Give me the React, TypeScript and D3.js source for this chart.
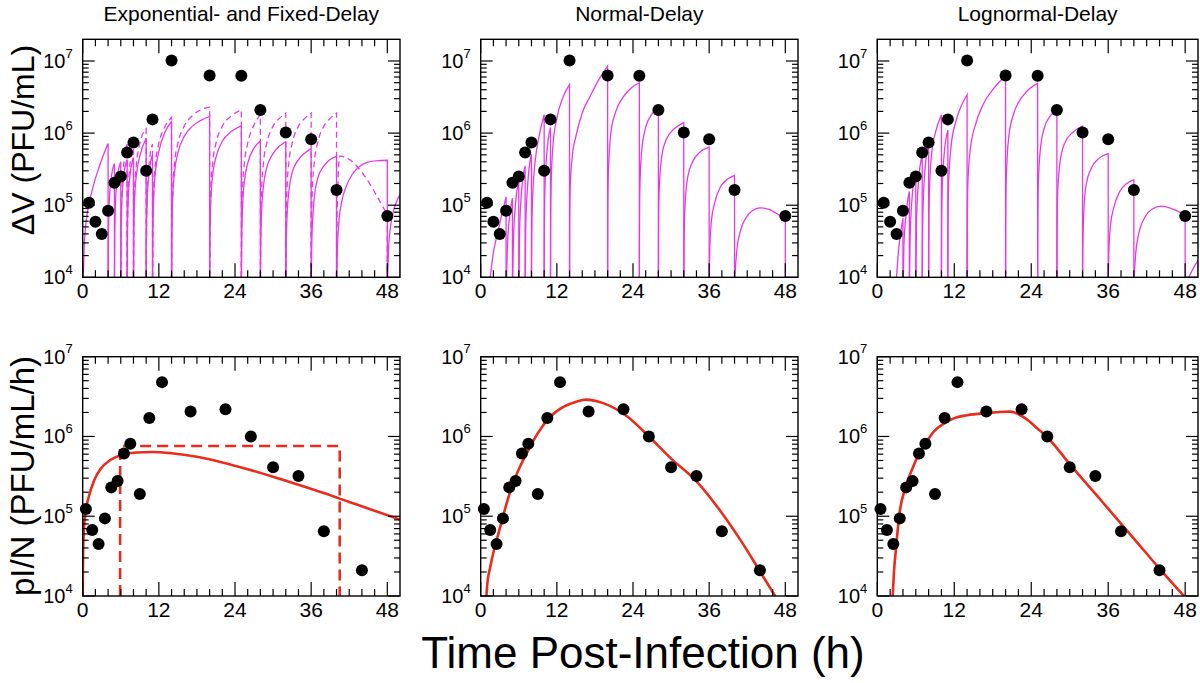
import React from 'react';
import * as d3 from 'd3';

type Pt = [number, number];

// ---------- text ----------
const panelTitles = ['Exponential- and Fixed-Delay', 'Normal-Delay', 'Lognormal-Delay'];
const rowTitles = ['\u0394V (PFU/mL)', 'pI/N (PFU/mL/h)'];
const xTitle = 'Time Post-Infection (h)';
const timeTicks = [0, 12, 24, 36, 48];
const decadeExponents = [4, 5, 6, 7];

// ---------- measured data (dots) ----------
const dvTimes = [1, 2, 3, 4, 5, 6, 7, 8, 10, 11, 14, 20, 25, 28, 32, 36, 40, 48];
const dvValues = [1.08e5, 5.9e4, 4.0e4, 8.4e4, 2.05e5, 2.5e5, 5.4e5, 7.4e5, 3.0e5, 1.55e6, 1.02e7, 6.3e6, 6.25e6, 2.09e6, 1.02e6, 8.2e5, 1.63e5, 7.1e4];
const piTimes = [0.5, 1.5, 2.5, 3.5, 4.5, 5.5, 6.5, 7.5, 9, 10.5, 12.5, 17, 22.5, 26.5, 30, 34, 38, 44];
const piValues = [1.23e5, 6.7e4, 4.5e4, 9.4e4, 2.3e5, 2.76e5, 6.1e5, 8.1e5, 1.9e5, 1.7e6, 4.8e6, 2.05e6, 2.2e6, 1.0e6, 4.1e5, 3.2e5, 6.5e4, 2.1e4];

// ---------- model ΔV segments (between samplings) ----------
const expDelayDV: Pt[][] = [
  [[0.08, 1e4], [0.25, 2.8e4], [0.6, 6.5e4], [1, 1.05e5], [1.7, 1.9e5], [2.5, 3.2e5], [3.2, 4.8e5], [4, 7.2e5]],
  [[4.015, 1e4], [4.06, 4e4], [4.2, 1.2e5], [4.5, 2.4e5], [5, 3.8e5]],
  [[5.015, 1e4], [5.06, 4e4], [5.2, 1.25e5], [5.5, 2.5e5], [6, 4e5]],
  [[6.015, 1e4], [6.06, 4.2e4], [6.2, 1.3e5], [6.5, 2.7e5], [7, 4.3e5]],
  [[7.015, 1e4], [7.06, 4.2e4], [7.2, 1.35e5], [7.5, 2.8e5], [8, 4.6e5]],
  [[8.015, 1e4], [8.06, 4.3e4], [8.2, 1.35e5], [8.5, 2.8e5], [9, 4.8e5], [10, 8.5e5]],
  [[10.015, 1e4], [10.06, 4.3e4], [10.2, 1.4e5], [10.5, 3e5], [11, 5e5]],
  [[11.015, 1e4], [11.06, 4.3e4], [11.2, 1.4e5], [11.5, 3.1e5], [12, 5.6e5], [13, 1.05e6], [14, 1.45e6]],
  [[14.015, 1e4], [14.06, 4.2e4], [14.2, 1.35e5], [14.5, 3e5], [15, 5.3e5], [16, 9e5], [17.3, 1.25e6], [18.6, 1.5e6], [20, 1.7e6]],
  [[20.015, 1e4], [20.06, 3.8e4], [20.2, 1.2e5], [20.5, 2.7e5], [21, 4.6e5], [22, 7.7e5], [23.4, 1.05e6], [25, 1.26e6]],
  [[25.015, 1e4], [25.07, 3.6e4], [25.2, 1e5], [25.5, 2.2e5], [26, 3.8e5], [27, 6.2e5], [28, 7.8e5]],
  [[28.02, 1e4], [28.07, 3e4], [28.2, 8.5e4], [28.5, 1.9e5], [29, 3.3e5], [30, 5.2e5], [31, 6.6e5], [32, 7.6e5]],
  [[32.02, 1e4], [32.08, 2.9e4], [32.2, 7e4], [32.5, 1.6e5], [33, 2.8e5], [34, 4.3e5], [35, 5.3e5], [36, 6.1e5]],
  [[36.03, 1e4], [36.1, 3e4], [36.25, 6.5e4], [36.5, 1.3e5], [37, 2.3e5], [38, 3.5e5], [39, 4.3e5], [40, 4.8e5]],
  [[40.04, 1e4], [40.12, 2.3e4], [40.35, 5.5e4], [40.8, 1.1e5], [41.5, 1.8e5], [42.5, 2.7e5], [43.7, 3.5e5], [45, 3.95e5], [46.5, 4.15e5], [48, 4.2e5]],
  [[48.06, 1e4], [48.2, 2.5e4], [48.5, 5e4], [49, 8.5e4], [49.5, 1.15e5], [50, 1.4e5]],
];
const fixedDelayDV: Pt[][] = [
  [[6.01, 1e4], [6.05, 4.5e4], [6.2, 1.7e5], [6.5, 4e5], [7, 7e5]],
  [[7.01, 1e4], [7.05, 4.5e4], [7.2, 1.7e5], [7.5, 4e5], [8, 7.2e5]],
  [[8.01, 1e4], [8.05, 4.5e4], [8.2, 1.7e5], [8.5, 4e5], [9, 7.2e5], [10, 1.15e6]],
  [[10.01, 1e4], [10.05, 4.5e4], [10.2, 1.7e5], [10.5, 4e5], [11, 7e5]],
  [[11.01, 1e4], [11.05, 4.5e4], [11.2, 1.7e5], [11.5, 4e5], [12, 7.2e5], [13, 1.25e6], [14, 1.65e6]],
  [[14.01, 1e4], [14.05, 4.5e4], [14.2, 1.7e5], [14.5, 4e5], [15, 7.2e5], [16, 1.25e6], [17.3, 1.75e6], [18.6, 2.1e6], [20, 2.3e6]],
  [[20.01, 1e4], [20.05, 4.5e4], [20.2, 1.7e5], [20.5, 4e5], [21, 7.2e5], [22, 1.25e6], [23.3, 1.7e6], [25, 2.1e6]],
  [[25.01, 1e4], [25.05, 4.5e4], [25.2, 1.7e5], [25.5, 4e5], [26, 7.2e5], [27, 1.3e6], [28, 1.8e6]],
  [[28.01, 1e4], [28.05, 4.5e4], [28.2, 1.7e5], [28.5, 4e5], [29, 7.2e5], [30, 1.25e6], [31, 1.6e6], [32, 1.9e6]],
  [[32.01, 1e4], [32.05, 4.5e4], [32.2, 1.7e5], [32.5, 4e5], [33, 7.2e5], [34, 1.25e6], [35, 1.6e6], [36, 1.9e6]],
  [[36.01, 1e4], [36.05, 4.5e4], [36.2, 1.7e5], [36.5, 4e5], [37, 7.2e5], [38, 1.25e6], [39, 1.6e6], [40, 1.9e6]],
  [[40.01, 1e4], [40.05, 4.5e4], [40.2, 1.7e5], [40.5, 4.8e5], [48, 7.3e4]],
];
const normalDelayDV: Pt[][] = [
  [[1.5, 1e4], [2, 2.2e4], [2.5, 3.6e4], [3, 5.6e4], [3.5, 8.6e4], [4, 1.3e5]],
  [[4.08, 1e4], [4.2, 2.6e4], [4.5, 6.3e4], [5, 1.25e5]],
  [[5.05, 1e4], [5.15, 3e4], [5.45, 9.5e4], [6, 2.1e5]],
  [[6.03, 1e4], [6.12, 4e4], [6.4, 1.4e5], [7, 3.5e5]],
  [[7.02, 1e4], [7.1, 5e4], [7.4, 1.9e5], [8, 5.1e5]],
  [[8.01, 1e4], [8.05, 4e4], [8.2, 1.4e5], [8.6, 4.2e5], [9.2, 9e5], [10, 1.8e6]],
  [[10.005, 1e4], [10.03, 4e4], [10.12, 1.6e5], [10.4, 5e5], [11, 1.2e6]],
  [[11.005, 1e4], [11.02, 4e4], [11.1, 2e5], [11.4, 7e5], [12, 1.6e6], [13, 3.2e6], [14, 4.7e6]],
  [[14.003, 1e4], [14.02, 4e4], [14.1, 1.8e5], [14.4, 4.5e5], [15, 9e5], [16, 1.9e6], [17.3, 3.3e6], [18.5, 5.3e6], [20, 8.5e6]],
  [[20.003, 1e4], [20.02, 5e4], [20.1, 2.5e5], [20.5, 1e6], [21.3, 2e6], [22.5, 3.2e6], [23.8, 4.3e6], [25, 5e6]],
  [[25.003, 1e4], [25.02, 4e4], [25.1, 2e5], [25.4, 6e5], [26, 1.2e6], [27, 1.85e6], [28, 2.2e6]],
  [[28.005, 1e4], [28.03, 4e4], [28.12, 1.6e5], [28.5, 4.5e5], [29.2, 8e5], [30.5, 1.15e6], [32, 1.4e6]],
  [[32.01, 1e4], [32.05, 3e4], [32.2, 1e5], [32.6, 2.4e5], [33.4, 4e5], [34.6, 5.5e5], [36, 6.4e5]],
  [[36.02, 1e4], [36.1, 2.5e4], [36.35, 6e4], [36.9, 1.1e5], [37.8, 1.8e5], [38.9, 2.3e5], [40, 2.6e5]],
  [[40.05, 1e4], [40.3, 2.1e4], [40.9, 4.3e4], [41.8, 6.7e4], [42.8, 8.4e4], [44, 9.2e4], [45.3, 8.8e4], [46.7, 7.6e4], [48, 6.2e4]],
];
const lognormalDelayDV: Pt[][] = [
  [[3.0, 1e4], [3.3, 2.3e4], [3.6, 3.9e4], [4, 6.6e4]],
  [[4.06, 1e4], [4.15, 2.8e4], [4.45, 7e4], [5, 1.55e5]],
  [[5.03, 1e4], [5.12, 3.5e4], [5.4, 1.2e5], [6, 2.9e5]],
  [[6.02, 1e4], [6.1, 5e4], [6.4, 2e5], [7, 5e5]],
  [[7.015, 1e4], [7.08, 5.5e4], [7.35, 2.5e5], [8, 7.2e5]],
  [[8.008, 1e4], [8.04, 5e4], [8.15, 1.8e5], [8.5, 5.5e5], [9.1, 1.05e6], [10, 1.8e6]],
  [[10.006, 1e4], [10.03, 4.5e4], [10.12, 1.7e5], [10.4, 4.8e5], [11, 1.1e6]],
  [[11.005, 1e4], [11.03, 5e4], [11.12, 2e5], [11.5, 6.5e5], [12.2, 1.4e6], [13.1, 2.4e6], [14, 3.4e6]],
  [[14.004, 1e4], [14.03, 5e4], [14.12, 2e5], [14.5, 6e5], [15.3, 1.3e6], [16.5, 2.5e6], [18, 4e6], [20, 6.3e6]],
  [[20.003, 1e4], [20.02, 5e4], [20.1, 2.2e5], [20.5, 9e5], [21.3, 1.9e6], [22.5, 3.1e6], [23.8, 4.2e6], [25, 4.9e6]],
  [[25.003, 1e4], [25.02, 4e4], [25.1, 1.9e5], [25.4, 5.7e5], [26, 1.15e6], [27, 1.75e6], [28, 2.1e6]],
  [[28.005, 1e4], [28.03, 3.7e4], [28.12, 1.45e5], [28.5, 4e5], [29.2, 7.2e5], [30.5, 1.03e6], [32, 1.25e6]],
  [[32.01, 1e4], [32.05, 2.6e4], [32.2, 8.5e4], [32.6, 2e5], [33.4, 3.3e5], [34.6, 4.5e5], [36, 5.2e5]],
  [[36.02, 1e4], [36.1, 2.2e4], [36.35, 5.2e4], [36.9, 9.5e4], [37.8, 1.55e5], [38.9, 2e5], [40, 2.25e5]],
  [[40.05, 1e4], [40.3, 2.2e4], [40.9, 4.5e4], [41.8, 7e4], [42.8, 8.8e4], [44.3, 9.7e4], [45.6, 9.2e4], [46.9, 8.2e4], [48, 7.3e4]],
  [[48.55, 1e4], [49, 1.2e4], [49.5, 1.45e4], [50, 1.7e4]],
];

// ---------- model production rates pI/N ----------
const expDelayRate: Pt[] = [
  [0, 1e4], [0.05, 3e4], [0.2, 7e4], [0.5, 1.2e5], [1, 1.8e5], [1.8, 2.8e5], [2.8, 3.9e5], [4.4, 5.1e5],
  [6.3, 5.9e5], [8.5, 6.3e5], [11, 6.4e5], [14, 6.17e5], [18, 5.56e5], [22, 4.73e5], [26, 3.89e5],
  [30, 3.13e5], [34, 2.48e5], [38, 1.95e5], [42, 1.51e5], [46, 1.17e5], [50, 9.1e4],
];
const fixedDelayRate: Pt[] = [[5.9, 1e4], [5.9, 7.6e5], [40.5, 7.6e5], [40.5, 1e4]];
const normalDelayRate: Pt[] = [
  [0.9, 1e4], [1.05, 1.44e4], [1.5, 2.3e4], [2.1, 3.8e4], [2.8, 6.1e4], [3.5, 9.8e4], [4.25, 1.6e5], [5.1, 2.6e5],
  [6.2, 4.2e5], [7.5, 6.7e5], [9, 1.1e6], [11, 1.78e6], [13.1, 2.36e6], [15.2, 2.75e6], [16.6, 2.9e6], [19.4, 2.6e6],
  [23.1, 1.78e6], [26.5, 1e6], [30.1, 5.2e5], [33.9, 2.8e5], [38, 1.1e5], [41.1, 4.8e4], [43.9, 2.1e4], [46.4, 1e4],
];
const lognormalDelayRate: Pt[] = [
  [2.4, 1e4], [2.6, 2e4], [2.95, 4.2e4], [3.4, 1e5], [4.4, 2.3e5], [5.5, 4e5], [6.5, 6.1e5], [7.5, 8.1e5],
  [8.8, 1.15e6], [10.4, 1.45e6], [12, 1.7e6], [14, 1.85e6], [17, 1.97e6], [19, 2.03e6], [20.8, 2.05e6],
  [22, 1.9e6], [23.5, 1.6e6], [25, 1.25e6], [26.4, 1.0e6], [30, 4.5e5], [35, 1.54e5], [40, 5.25e4], [44, 2.2e4], [47.8, 1e4],
];

// ---------- layout ----------
const FONT = '"Liberation Sans", Arial, Helvetica, sans-serif';
const MAGENTA = '#e838e8';
const RED = '#ea2c1c';
const cols = [
  { x0: 82.7, x1: 400 },
  { x0: 480.7, x1: 798 },
  { x0: 877.3, x1: 1198 },
];
const rows = [
  { y0: 39.3, y1: 277.3, top: 2e7 },
  { y0: 356.7, y1: 596, top: 1e7 },
];

function Panel({ col, row }: { col: number; row: number }) {
  const { x0, x1 } = cols[col];
  const { y0, y1, top } = rows[row];
  const x = d3.scaleLinear().domain([0, 50]).range([x0, x1]);
  const y = d3.scaleLog().domain([1e4, top]).range([y1, y0]);
  const line = d3
    .line<Pt>()
    .x((d) => x(d[0]))
    .y((d) => y(d[1]))
    .curve(d3.curveMonotoneX);
  const straight = d3
    .line<Pt>()
    .x((d) => x(d[0]))
    .y((d) => y(d[1]));
  const clipId = `clip-${row}-${col}`;

  const segPath = (seg: Pt[]) => {
    const last = seg[seg.length - 1];
    return `${line(seg)}L${x(last[0])},${y(1e4)}`;
  };

  // ticks
  const tickEls: JSX.Element[] = [];
  const minorX = d3.range(0, 50, 2).filter((t) => t % 12 !== 0);
  minorX.forEach((t, i) => {
    tickEls.push(<line key={`mxb${i}`} x1={x(t)} x2={x(t)} y1={y1} y2={y1 - 7} />);
    tickEls.push(<line key={`mxt${i}`} x1={x(t)} x2={x(t)} y1={y0} y2={y0 + 7} />);
  });
  timeTicks.forEach((t, i) => {
    tickEls.push(<line key={`Mxb${i}`} x1={x(t)} x2={x(t)} y1={y1} y2={y1 - 14} />);
    tickEls.push(<line key={`Mxt${i}`} x1={x(t)} x2={x(t)} y1={y0} y2={y0 + 14} />);
  });
  const yMinor: number[] = [];
  decadeExponents.forEach((e) => {
    for (let m = 2; m <= 9; m++) {
      const v = m * Math.pow(10, e);
      if (v < top * 0.999) yMinor.push(v);
    }
  });
  yMinor.forEach((v, i) => {
    tickEls.push(<line key={`myl${i}`} x1={x0} x2={x0 + 6} y1={y(v)} y2={y(v)} />);
    tickEls.push(<line key={`myr${i}`} x1={x1} x2={x1 - 6} y1={y(v)} y2={y(v)} />);
  });
  decadeExponents.forEach((e, i) => {
    const v = Math.pow(10, e);
    if (v > top) return;
    tickEls.push(<line key={`Myl${i}`} x1={x0} x2={x0 + 12} y1={y(v)} y2={y(v)} />);
    tickEls.push(<line key={`Myr${i}`} x1={x1} x2={x1 - 12} y1={y(v)} y2={y(v)} />);
  });

  let curves: JSX.Element | null = null;
  if (row === 0) {
    const solid = [expDelayDV, normalDelayDV, lognormalDelayDV][col];
    curves = (
      <g fill="none" stroke={MAGENTA} strokeWidth={1.3}>
        {solid.map((seg, i) => (
          <path key={`s${i}`} d={segPath(seg)} />
        ))}
        {col === 0 &&
          fixedDelayDV.map((seg, i) => (
            <path key={`d${i}`} d={segPath(seg)} strokeDasharray="6 4" />
          ))}
      </g>
    );
  } else {
    const rate = [expDelayRate, normalDelayRate, lognormalDelayRate][col];
    curves = (
      <g fill="none" stroke={RED} strokeWidth={2.6}>
        <path d={line(rate) || ''} />
        {col === 0 && <path d={straight(fixedDelayRate) || ''} strokeDasharray="11 6" />}
      </g>
    );
  }

  const dotsT = row === 0 ? dvTimes : piTimes;
  const dotsV = row === 0 ? dvValues : piValues;

  return (
    <g>
      <defs>
        <clipPath id={clipId}>
          <rect x={x0} y={y0} width={x1 - x0} height={y1 - y0} />
        </clipPath>
      </defs>
      <g clipPath={`url(#${clipId})`}>{curves}</g>
      <g fill="#000">
        {dotsT.map((t, i) => (
          <circle key={i} cx={x(t)} cy={y(dotsV[i])} r={6} />
        ))}
      </g>
      <g stroke="#000" strokeWidth={1.2}>{tickEls}</g>
      <rect x={x0} y={y0} width={x1 - x0} height={y1 - y0} fill="none" stroke="#000" strokeWidth={1.4} />
      <g fontFamily={FONT} fontSize={21} fill="#000" textAnchor="middle">
        {timeTicks.map((t) => (
          <text key={t} x={x(t)} y={y1 + 21}>
            {t}
          </text>
        ))}
      </g>
      <g fontFamily={FONT} fontSize={20} fill="#000" textAnchor="end">
        {decadeExponents.map((e) => (
          <text key={e} x={x0 - 10} y={y(Math.pow(10, e)) + 7}>
            10
            <tspan dy={-10.5} fontSize={13}>
              {e}
            </tspan>
          </text>
        ))}
      </g>
      {row === 0 && (
        <text x={(x0 + x1) / 2} y={21} fontFamily={FONT} fontSize={21} textAnchor="middle" fill="#000">
          {panelTitles[col]}
        </text>
      )}
    </g>
  );
}

export default function App() {
  return (
    <svg
      width={1200}
      height={683}
      viewBox="0 0 1200 683"
      style={{ position: 'absolute', left: 0, top: 0, display: 'block', background: '#fff' }}
    >
      <rect x={0} y={0} width={1200} height={683} fill="#fff" />
      {[0, 1].map((r) => [0, 1, 2].map((c) => <Panel key={`${r}-${c}`} row={r} col={c} />))}
      <text
        transform="translate(34,140) rotate(-90)"
        fontFamily={FONT}
        fontSize={32}
        textAnchor="middle"
        fill="#000"
      >
        {rowTitles[0]}
      </text>
      <text
        transform="translate(34,476) rotate(-90)"
        fontFamily={FONT}
        fontSize={33}
        textAnchor="middle"
        fill="#000"
      >
        {rowTitles[1]}
      </text>
      <text x={643} y={668} fontFamily={FONT} fontSize={44} textAnchor="middle" fill="#000">
        {xTitle}
      </text>
    </svg>
  );
}
